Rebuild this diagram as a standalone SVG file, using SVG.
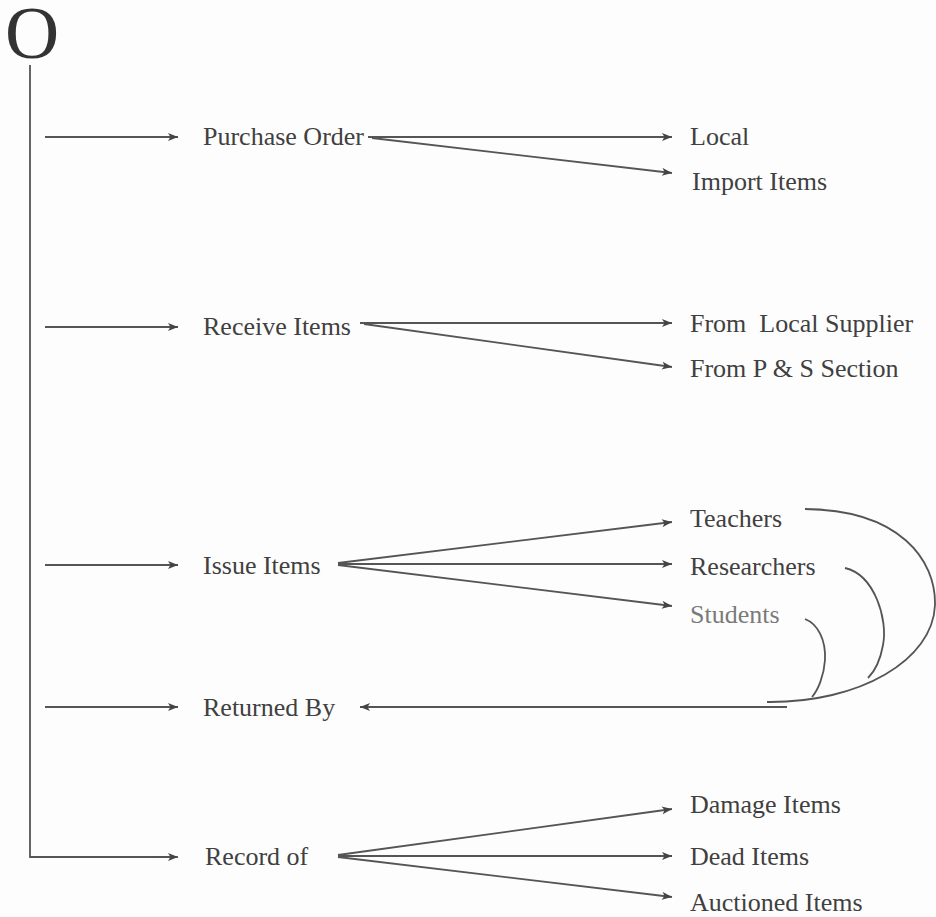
<svg xmlns="http://www.w3.org/2000/svg" width="936" height="917" viewBox="0 0 936 917">
<defs>
<marker id="ah" viewBox="0 0 10 8" refX="10" refY="4" markerWidth="11" markerHeight="8" markerUnits="userSpaceOnUse" orient="auto">
<path d="M0,0 L10,4 L0,8 L2.5,4 Z" fill="#444"/>
</marker>
<style>
.t{font-family:"Liberation Serif","Times New Roman",serif;font-size:26px;fill:#404040}
.l{stroke:#555;stroke-width:1.8;fill:none}
.a{stroke:#555;stroke-width:1.8;fill:none;marker-end:url(#ah)}
</style>
</defs>
<rect width="936" height="917" fill="#fdfdfd"/>
<g id="root"><text x="5" y="58" style="font-family:'Liberation Serif',serif;font-size:75px;fill:#333">O</text></g>
<g id="connectors">
<path class="l" d="M30,65 V857 H170"/>
<path class="a" d="M45,137 H178"/>
<path class="a" d="M45,327 H178"/>
<path class="a" d="M45,565 H178"/>
<path class="a" d="M45,707 H178"/>
<path class="a" d="M150,857 H178"/>
<path class="a" d="M368,137 L672,137"/>
<path class="a" d="M372,138 L672,173"/>
<path class="a" d="M360,323 L672,323"/>
<path class="a" d="M364,324 L672,367"/>
<path class="a" d="M338,563 L672,522"/>
<path class="a" d="M338,564 L672,564"/>
<path class="a" d="M338,565 L672,606"/>
<path class="a" d="M787,707 L360,707"/>
<path class="l" d="M805,509 C900,510 936,560 935,605 C933,660 860,703 767,702"/>
<path class="l" d="M845,568 C875,575 888,620 883,645 C880,662 874,672 868,678"/>
<path class="l" d="M805,619 C818,624 826,640 825,660 C824,676 818,690 812,697"/>
<path class="a" d="M338,855 L672,809"/>
<path class="a" d="M338,856 L672,856"/>
<path class="a" d="M338,857 L672,897"/>
</g>
<g id="n-po"><text class="t" x="203" y="145">Purchase Order</text></g>
<g id="n-local"><text class="t" x="690" y="145">Local</text></g>
<g id="n-import"><text class="t" x="692" y="190">Import Items</text></g>
<g id="n-receive"><text class="t" x="203" y="335">Receive Items</text></g>
<g id="n-fls"><text class="t" x="690" y="332" xml:space="preserve">From  Local Supplier</text></g>
<g id="n-fps"><text class="t" x="690" y="377">From P &amp; S Section</text></g>
<g id="n-issue"><text class="t" x="203" y="574">Issue Items</text></g>
<g id="n-teachers"><text class="t" x="690" y="527">Teachers</text></g>
<g id="n-researchers"><text class="t" x="690" y="575">Researchers</text></g>
<g id="n-students"><text class="t" x="690" y="623" style="fill:#7a7a7a">Students</text></g>
<g id="n-returned"><text class="t" x="203" y="716">Returned By</text></g>
<g id="n-record"><text class="t" x="205" y="865">Record of</text></g>
<g id="n-damage"><text class="t" x="690" y="813">Damage Items</text></g>
<g id="n-dead"><text class="t" x="690" y="865">Dead Items</text></g>
<g id="n-auction"><text class="t" x="690" y="911">Auctioned Items</text></g>
</svg>
